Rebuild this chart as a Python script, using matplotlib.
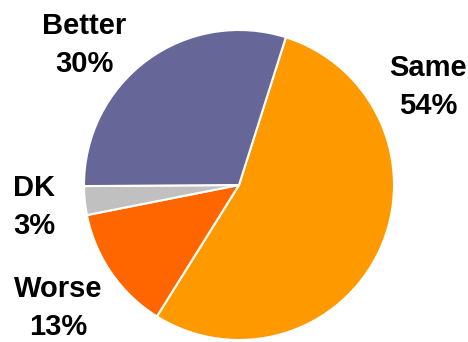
import matplotlib
matplotlib.use('Agg')
import matplotlib.pyplot as plt

labels = ['Same', 'Worse', 'DK', 'Better']
values = [54, 13, 3, 30]
colors = ['#FF9900', '#FF6600', '#C0C0C0', '#666699']

W, H = 468, 342
fig = plt.figure(figsize=(W / 100, H / 100), dpi=100)
ax = fig.add_axes([0, 0, 1, 1])
ax.set_xlim(0, W)
ax.set_ylim(0, H)
ax.axis('off')

ax.pie(values, colors=colors, startangle=72.4, counterclock=False,
       center=(239, H - 185), radius=155,
       wedgeprops=dict(edgecolor='white', linewidth=1.5))
ax.set_xlim(0, W)
ax.set_ylim(0, H)

# label positions (pixels from top-left)
label_pos = [(428, 87), (58, 308), (34, 207), (84, 45)]
for lab, val, (x, y) in zip(labels, values, label_pos):
    ax.text(x, H - y, f'{lab}\n{val}%', ha='center', va='center',
            fontsize=21, fontweight='bold', family='Liberation Sans',
            linespacing=1.45)

fig.savefig('out.png', dpi=100)
